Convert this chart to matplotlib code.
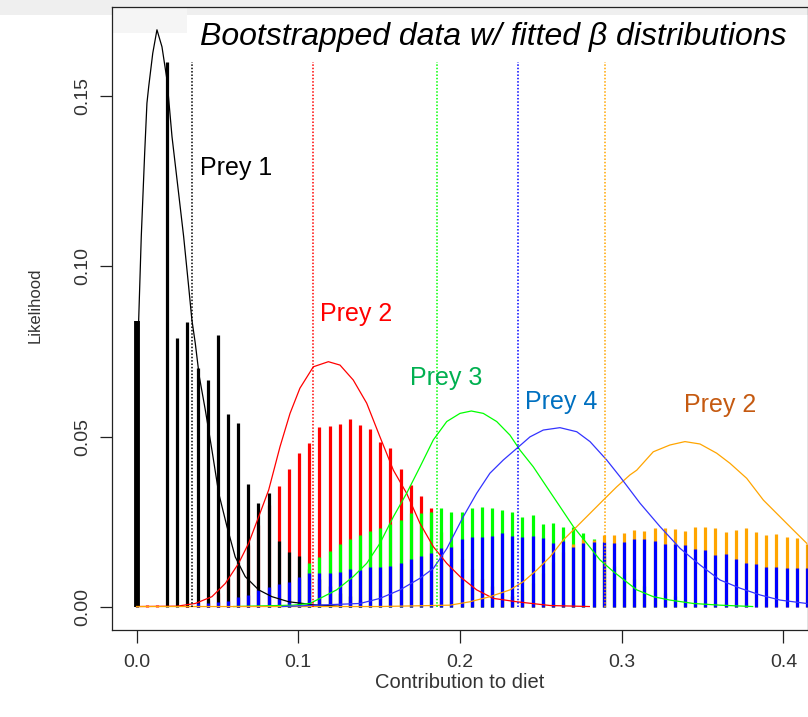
import matplotlib
matplotlib.use("Agg")
import matplotlib.pyplot as plt
from matplotlib.patches import Rectangle
import numpy as np

plt.rcParams['font.family'] = ['Liberation Sans', 'DejaVu Sans']

# bootstrapped frequencies, one value per bin (bin k sits at k * bin_width)
bin_width = 0.00628
prey1 = [0.084, 0, 0, 0.160, 0.079, 0.0836, 0.070, 0.0666, 0.0799, 0.0565,
         0.0539, 0.036, 0.0305, 0.0333, 0.0194, 0.0161, 0.0149, 0.011, 0.008, 0.006,
         0.004, 0.003, 0.002] + [0.0] * 44
prey2 = [0, 0.0004, 0.0005, 0, 0, 0.0003, 0.0004, 0.002, 0.004, 0.008,
         0.012, 0.018, 0.024, 0.030, 0.0354, 0.0404, 0.0451, 0.0482, 0.0527, 0.0531,
         0.0537, 0.0551, 0.0534, 0.0521, 0.0485, 0.0465, 0.0404, 0.0357, 0.0326, 0.0291,
         0.022, 0.018, 0.014, 0.011, 0.008, 0.006, 0.004, 0.003, 0.002, 0.001,
         0.001, 0.001, 0.001, 0.001] + [0.0] * 23
prey3 = [0] * 13 + [0.0005, 0.0005, 0.0005, 0.008, 0.0127, 0.0146, 0.0163,
         0.0183, 0.0198, 0.0210, 0.0222, 0.0232, 0.0243, 0.0254, 0.0276, 0.0274, 0.0279,
         0.0291, 0.0279, 0.0279, 0.0291, 0.0294, 0.0289, 0.0284, 0.0277, 0.0264, 0.0269,
         0.0242, 0.0245, 0.0235, 0.0235, 0.0217, 0.0198, 0.015, 0.012, 0.010, 0.008,
         0.006, 0.005, 0.004, 0.003, 0.002, 0.001, 0.001, 0.001, 0.001, 0.001,
         0.001] + [0.0] * 6
prey4 = [0, 0, 0, 0, 0, 0, 0.001, 0.001, 0.0014, 0.0017,
         0.0029, 0.0034, 0.0049, 0.0056, 0.0066, 0.0073, 0.0086, 0.0098, 0.0099, 0.0099,
         0.0102, 0.0110, 0.0107, 0.0115, 0.0117, 0.0120, 0.0127, 0.0139, 0.0149, 0.0158,
         0.0171, 0.0176, 0.0198, 0.0205, 0.0205, 0.0207, 0.0215, 0.0207, 0.0205, 0.0207,
         0.0201, 0.0188, 0.0193, 0.0174, 0.0186, 0.0189, 0.0191, 0.0188, 0.0191, 0.0198,
         0.0198, 0.0194, 0.0184, 0.0183, 0.0181, 0.0169, 0.0166, 0.0151, 0.0154, 0.0139,
         0.0127, 0.0124, 0.0117, 0.0117, 0.0114, 0.0114, 0.0112]
prey5 = [0] * 36 + [0.002, 0.003, 0.005, 0.007,
         0.010, 0.013, 0.016, 0.0185, 0.0198, 0.0196, 0.0210, 0.0210, 0.0217, 0.0225,
         0.0222, 0.0232, 0.0232, 0.0228, 0.0222, 0.0235, 0.0235, 0.0232, 0.0220, 0.0225,
         0.0232, 0.0220, 0.0210, 0.0213, 0.0204, 0.0201, 0.0183]

# fitted beta curves
curve1_x = [0.0010, 0.0013, 0.0029, 0.0050, 0.0064, 0.0075, 0.0100, 0.0126, 0.0157, 0.0188,
            0.0219, 0.0260, 0.0291, 0.0322, 0.0342, 0.0363, 0.0388, 0.0425, 0.0466, 0.0508,
            0.0559, 0.0610, 0.0672, 0.0755, 0.0837, 0.0941, 0.110, 0.125]
curve1_y = [0.0769, 0.0843, 0.1088, 0.1333, 0.1480, 0.1529, 0.1627, 0.1696, 0.1646, 0.1549,
            0.1382, 0.1215, 0.1088, 0.0941, 0.0843, 0.0774, 0.0676, 0.0578, 0.0460, 0.0333,
            0.0235, 0.0146, 0.0088, 0.0049, 0.0029, 0.0014, 0.0005, 0.0001]
curve2_x = [0.0, 0.025, 0.0363, 0.0466, 0.0549, 0.0631, 0.0693, 0.0755, 0.0817, 0.0887,
            0.0949, 0.1010, 0.1093, 0.1186, 0.1258, 0.1340, 0.1423, 0.1505, 0.1588, 0.1670,
            0.1752, 0.1835, 0.1918, 0.2000, 0.2103, 0.2206, 0.2351, 0.2557, 0.280]
curve2_y = [0.0, 0.0001, 0.0009, 0.0029, 0.0068, 0.0127, 0.0186, 0.0264, 0.0343, 0.0470,
            0.0568, 0.0642, 0.0705, 0.0720, 0.0710, 0.0666, 0.0598, 0.0499, 0.0401, 0.0333,
            0.0245, 0.0176, 0.0127, 0.0088, 0.0049, 0.0024, 0.0014, 0.0003, 0.0]
curve3_x = [0.06, 0.0967, 0.1072, 0.1155, 0.1237, 0.1340, 0.1423, 0.1505, 0.1588, 0.1670,
            0.1753, 0.1835, 0.1918, 0.2000, 0.2070, 0.2144, 0.2227, 0.2309, 0.2371, 0.2453,
            0.2536, 0.2618, 0.2701, 0.2784, 0.2866, 0.2948, 0.3093, 0.3195, 0.3298, 0.3443,
            0.3608, 0.381]
curve3_y = [0.0, 0.0004, 0.0009, 0.0029, 0.0049, 0.0088, 0.0127, 0.0186, 0.0264, 0.0333,
            0.0411, 0.0490, 0.0544, 0.0568, 0.0575, 0.0568, 0.0544, 0.0504, 0.0460, 0.0411,
            0.0352, 0.0294, 0.0235, 0.0186, 0.0137, 0.0103, 0.0049, 0.0029, 0.0019, 0.0009,
            0.0004, 0.0]
curve4_x = [0.09, 0.1382, 0.1505, 0.1629, 0.1752, 0.1835, 0.1918, 0.2020, 0.2103, 0.2185,
            0.2268, 0.2351, 0.2433, 0.2515, 0.2618, 0.2722, 0.2804, 0.2907, 0.2989, 0.3113,
            0.3237, 0.3361, 0.3485, 0.3608, 0.3732, 0.3856, 0.3979, 0.4144]
curve4_y = [0.0, 0.0009, 0.0024, 0.0049, 0.0083, 0.0112, 0.0170, 0.0264, 0.0333, 0.0392,
            0.0431, 0.0465, 0.0499, 0.0519, 0.0526, 0.0514, 0.0485, 0.0431, 0.0382, 0.0304,
            0.0235, 0.0171, 0.0122, 0.0078, 0.0054, 0.0034, 0.0019, 0.0009]
curve5_x = [0.0, 0.15, 0.1938, 0.2061, 0.2185, 0.2309, 0.2391, 0.2474, 0.2557, 0.2639,
            0.2722, 0.2804, 0.2886, 0.2969, 0.3051, 0.3093, 0.3195, 0.3298, 0.3391, 0.3484,
            0.3587, 0.3670, 0.3773, 0.3876, 0.3979, 0.4061, 0.4144]
curve5_y = [0.0, 0.0, 0.0004, 0.0014, 0.0029, 0.0049, 0.0073, 0.0107, 0.0146, 0.0196,
            0.0235, 0.0274, 0.0313, 0.0352, 0.0387, 0.0401, 0.0455, 0.0475, 0.0485, 0.0478,
            0.0451, 0.0421, 0.0377, 0.0313, 0.0264, 0.0225, 0.0186]

# means (dotted lines) and labels
means = [0.0345, 0.1089, 0.1860, 0.2361, 0.2899]
mean_top = 0.160
labels = ["Prey 1", "Prey 2", "Prey 3", "Prey 4", "Prey 2"]
label_x = [0.0392, 0.1135, 0.169, 0.240, 0.3386]
label_y = [0.129, 0.086, 0.0672, 0.0602, 0.0593]

bar_cols = ["black", "red", "#00ff00", "blue", "orange"]
label_cols = ["black", "red", "#00b050", "#0070c0", "#c55a11"]

fig = plt.figure(figsize=(8.08, 7.17), dpi=100)
ax = fig.add_axes([112 / 808, 87 / 717, 696 / 808, 623 / 717])
ax.set_facecolor("none")

# faint grey shading at the top of the slide
fig.patches.append(Rectangle((0, 702 / 717), 1, 15 / 717, transform=fig.transFigure,
                             facecolor="#efefef", edgecolor="none", zorder=-2))
fig.patches.append(Rectangle((112 / 808, 684 / 717), 75 / 808, 26 / 717, transform=fig.transFigure,
                             facecolor="#f5f5f5", edgecolor="none", zorder=-2))

xs = np.arange(len(prey4)) * bin_width
series = [prey1, prey2, prey3, prey4, prey5]
# draw order as in the original: red, black, green, orange, blue
for i in [1, 0, 2, 4, 3]:
    vals = np.array(series[i])
    ax.vlines(xs, 0, vals, colors=bar_cols[i], linewidth=2.3, capstyle="butt", zorder=2)
ax.vlines(xs[:1], 0, np.array(prey1[:1]), colors="black", linewidth=4.2, zorder=2)

curves = [(curve2_x, curve2_y), (curve1_x, curve1_y), (curve3_x, curve3_y),
          (curve5_x, curve5_y), (curve4_x, curve4_y)]
ccols = ["red", "black", "#00ff00", "orange", "#3333ff"]
for (cx, cy), c in zip(curves, ccols):
    ax.plot(cx, cy, color=c, linewidth=0.9, zorder=3)

for m, c in zip(means, bar_cols[:4] + ["orange"]):
    ax.vlines(m, 0, mean_top, colors=c, linestyles=(0, (1, 1.2)), linewidth=1.1, zorder=4)

for t, lx, ly, c in zip(labels, label_x, label_y, label_cols):
    ax.text(lx, ly, t, color=c, fontsize=18, va="center", ha="left", zorder=5)

ax.set_xlim(-0.0152, 0.4152)
ax.set_ylim(-0.0069, 0.1763)
ax.set_xticks([0.0, 0.1, 0.2, 0.3, 0.4])
ax.set_xticklabels(["0.0", "0.1", "0.2", "0.3", "0.4"])
ax.set_yticks([0.0, 0.05, 0.10, 0.15])
ax.set_yticklabels(["0.00", "0.05", "0.10", "0.15"], rotation=90, va="center")
ax.tick_params(axis="both", direction="out", length=9, width=0.9, colors="#222222",
               labelcolor="#333333", labelsize=14)
ax.tick_params(axis="x", pad=8)
ax.tick_params(axis="y", pad=6)
for s in ax.spines.values():
    s.set_linewidth(0.9)
    s.set_color("#222222")

ax.set_xlabel("Contribution to diet", fontsize=14.5, color="#333333")
ax.xaxis.set_label_coords(0.5, -0.069)
ax.set_ylabel("Likelihood", fontsize=12, color="#333333")
ax.yaxis.set_label_coords(-0.10, 0.522)

fig.text(200 / 808, 1 - 37 / 717, "Bootstrapped data w/ fitted \u03b2 distributions",
         fontsize=23, fontstyle="italic", va="center", ha="left", zorder=6,
         bbox=dict(facecolor="white", edgecolor="none", pad=5))

fig.savefig("out.png", dpi=100)
